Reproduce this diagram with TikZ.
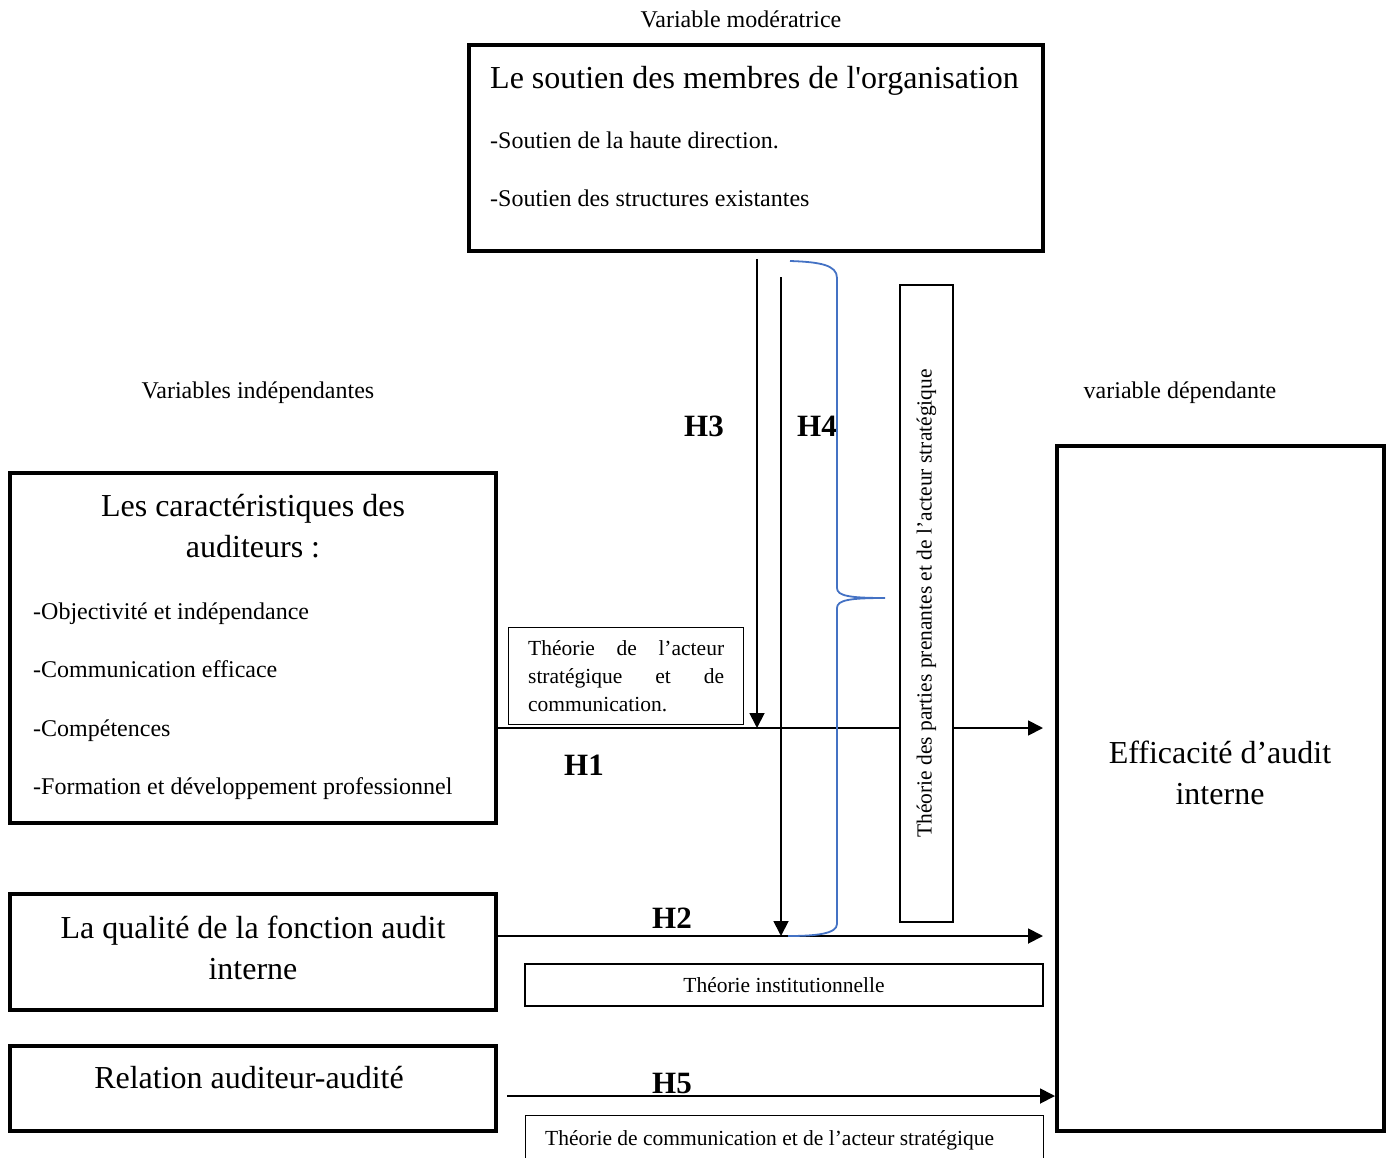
\documentclass[tikz,border=0pt]{standalone}
\usepackage{fontspec}
\setmainfont{Liberation Serif}
\usetikzlibrary{arrows.meta, positioning}

\begin{document}
\begin{tikzpicture}[x=1pt, y=-1pt,
    boite/.style={draw, line width=4pt, inner sep=0pt},
    fine/.style={draw, line width=1.3pt, inner sep=0pt},
    fleche/.style={line width=1.8pt, -{Triangle[length=15pt, width=15pt]}},
    petit/.style={font=\fontsize{24}{29}\selectfont, inner sep=0pt},
    grand/.style={font=\fontsize{32}{41.5}\selectfont, inner sep=0pt, align=center},
    theo/.style={font=\fontsize{21.5}{28}\selectfont},
    hyp/.style={font=\fontsize{31}{31}\selectfont\bfseries, inner sep=0pt, anchor=base}]
  \useasboundingbox (0,0) rectangle (1391,1158);
  \clip (0,0) rectangle (1391,1158);

  % Define the nodes
  \node[boite, minimum width=574pt, minimum height=206pt] (soutien) at (756,148) {};
  \node[boite, minimum width=486pt, minimum height=350pt] (carac) at (253,648) {};
  \node[boite, minimum width=486pt, minimum height=116pt] (qualite) at (253,952) {};
  \node[boite, minimum width=486pt, minimum height=85pt] (relation) at (253,1088.5) {};
  \node[boite, minimum width=327pt, minimum height=685pt] (efficacite) at (1220.5,788.5) {};

  % titles and items
  \node[petit, anchor=base] (moder) at (741,28) {Variable modératrice};
  \node[petit, anchor=base] (indep) at (258,398) {Variables indépendantes};
  \node[petit, anchor=base] (depend) at (1180,398) {variable dépendante};

  \node[grand, anchor=base west] (soutien-t) at (490,89) {Le soutien des membres de l\textquotesingle organisation};
  \node[petit, anchor=base west] (soutien-a) at (490,149) {-Soutien de la haute direction.};
  \node[petit, anchor=base west] (soutien-b) at (490,207) {-Soutien des structures existantes};

  \node[grand] (carac-t) at (253,526) {Les caractéristiques des\\auditeurs :};
  \node[petit, anchor=base west] (carac-a) at (33,619) {-Objectivité et indépendance};
  \node[petit, anchor=base west] (carac-b) at (33,677) {-Communication efficace};
  \node[petit, anchor=base west] (carac-c) at (33,736) {-Compétences};
  \node[petit, anchor=base west] (carac-d) at (33,794) {-Formation et développement professionnel};

  \node[grand] (qualite-t) at (253,948) {La qualité de la fonction audit\\interne};
  \node[grand, anchor=base] (relation-t) at (249,1088) {Relation auditeur-audité};
  \node[grand] (efficacite-t) at (1220,773) {Efficacité d’audit\\interne};

  % theory boxes
  \node[fine, theo, anchor=north west, text width=196pt, inner xsep=19.5pt, minimum height=97pt, align=justify] (th-acteur) at (508,627)
    {Théorie de l’acteur\linebreak stratégique et de\linebreak communication.};
  \node[fine, theo, minimum width=518pt, minimum height=42pt] (th-instit) at (784,985) {Théorie institutionnelle};
  \node[fine, anchor=north west, minimum width=518pt, minimum height=80pt] (th-comm) at (525,1115) {};
  \node[theo, anchor=base west, inner sep=0pt] (th-comm-t) at (545,1145) {Théorie de communication et de l’acteur stratégique};

  % Define the arrows
  \coordinate (h1end) at (1043,728);
  \coordinate (h2end) at (1043,936);
  \coordinate (h5start) at (507,1096);
  \coordinate (h3end) at (757,728);
  \coordinate (h4end) at (781,936);
  \draw[fleche] (carac.east |- h1end) -- (h1end);
  \draw[fleche] (qualite.east |- h2end) -- (h2end);
  \draw[fleche] (h5start) -- (efficacite.west |- h5start);
  \draw[fleche] ([yshift=-6pt]soutien.south -| h3end) -- (h3end);
  \draw[fleche] ([yshift=-24pt]soutien.south -| h4end) -- (h4end);

  \node[fine, theo, fill=white, rotate=90, minimum width=637pt, minimum height=53pt] (th-parties) at (926.5,603.5)
    {Théorie des parties prenantes et de l’acteur stratégique};

  \node[hyp] (h1) at (584,775) {H1};
  \node[hyp] (h2) at (672,928) {H2};
  \node[hyp] (h3) at (704,436) {H3};
  \node[hyp] (h4) at (817,436) {H4};
  \node[hyp] (h5) at (672,1093) {H5};

  % brace
  \draw[color={rgb,255:red,68;green,114;blue,196}, line width=1.8pt]
    (790,261) .. controls (820,262) and (837,265) .. (837,278) -- (837,588)
    .. controls (837,596) and (850,598) .. (885,598)
    .. controls (850,598) and (837,600) .. (837,608) -- (837,924)
    .. controls (837,934) and (815,936) .. (788,936);
\end{tikzpicture}
\end{document}
